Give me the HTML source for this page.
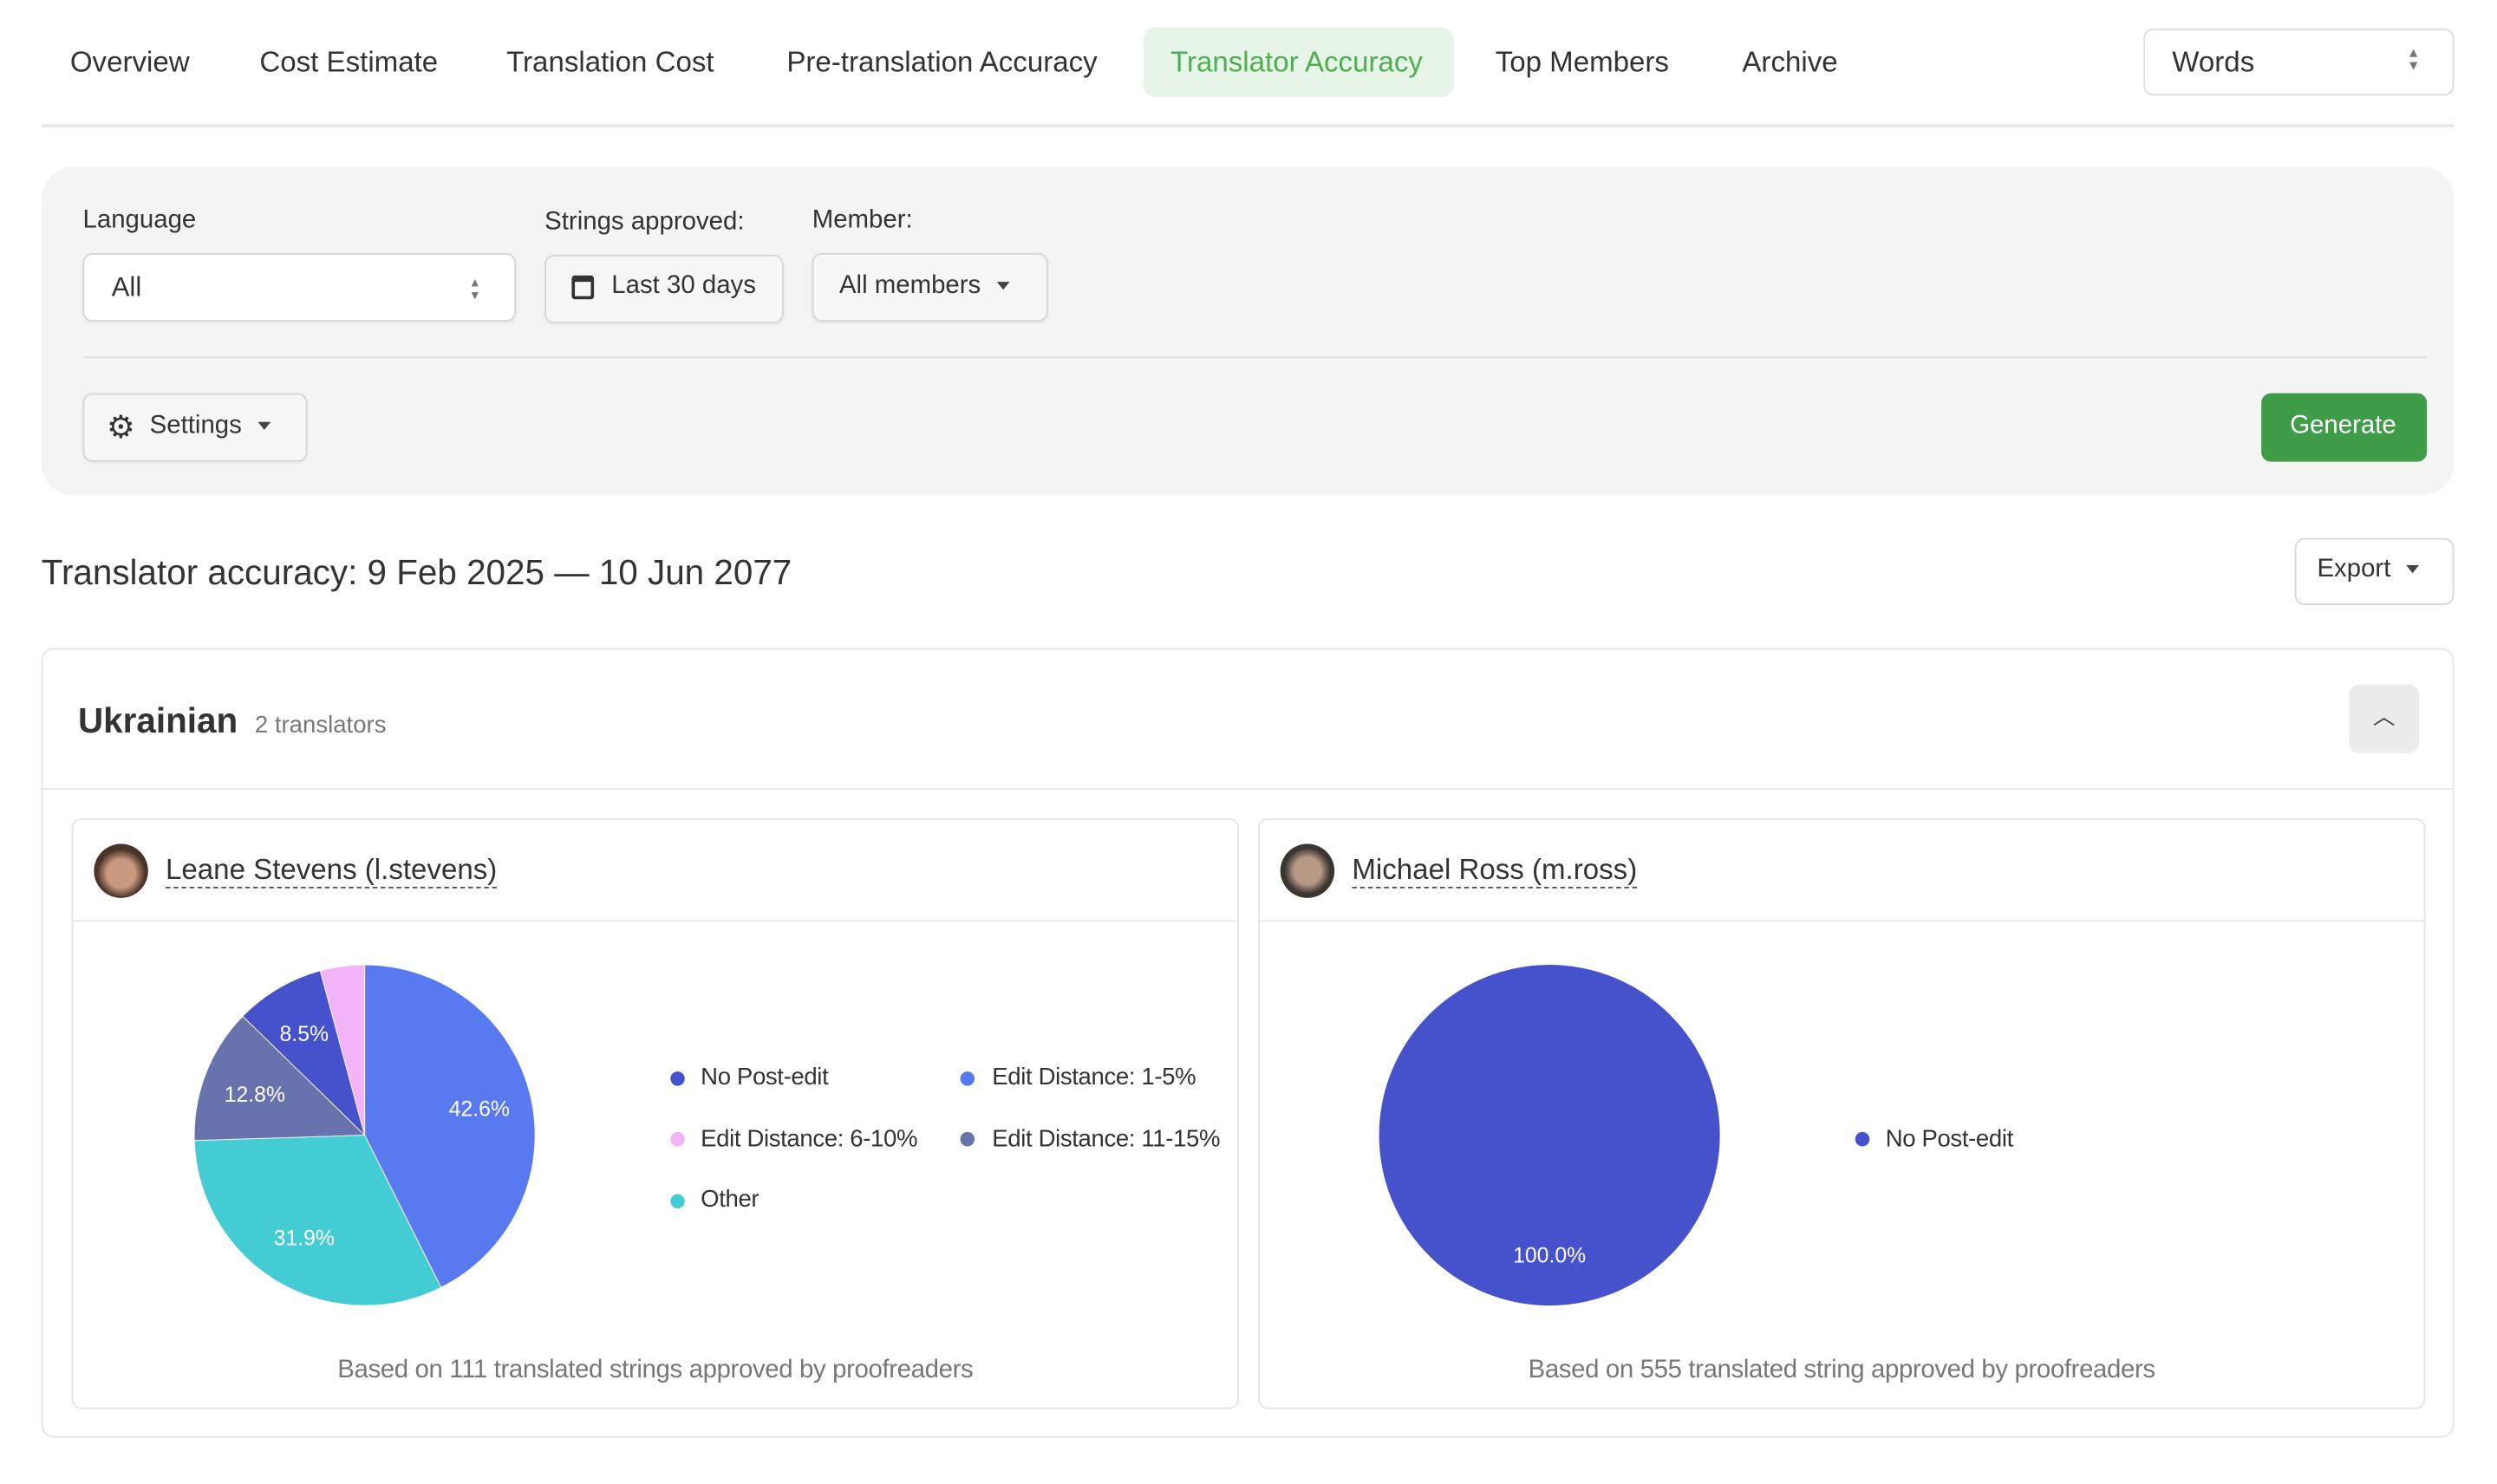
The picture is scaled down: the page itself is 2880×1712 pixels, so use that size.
<!DOCTYPE html>
<html><head><meta charset="utf-8">
<style>
html,body{margin:0;padding:0;background:#fff;}
body{width:2880px;height:1712px;overflow:hidden;font-family:"Liberation Sans",sans-serif;color:#333;}
#w{position:absolute;left:0;top:0;width:1568px;height:932px;transform:scale(1.83673);transform-origin:0 0;}
.a{position:absolute;}
.t{position:absolute;white-space:nowrap;}
.box{position:absolute;box-sizing:border-box;border:1px solid #d6d6d6;border-radius:6px;background:#f7f7f7;box-shadow:0 1px 2px rgba(0,0,0,.06);}
.caret{display:inline-block;width:0;height:0;border-left:4px solid transparent;border-right:4px solid transparent;border-top:5px solid #444;vertical-align:middle;margin-left:10px;}
.dot{position:absolute;width:9px;height:9px;border-radius:50%;}
.lg{font-size:15px;letter-spacing:-0.2px;}
</style></head><body><div id="w">
<!-- nav -->
<div class="t" style="left:44px;top:29px;font-size:18px;">Overview</div>
<div class="t" style="left:163px;top:29px;font-size:18px;">Cost Estimate</div>
<div class="t" style="left:318px;top:29px;font-size:18px;">Translation Cost</div>
<div class="t" style="left:494px;top:29px;font-size:18px;">Pre-translation Accuracy</div>
<div class="a" style="left:718px;top:17px;width:195px;height:44px;background:#e7f5e9;border-radius:8px;"></div>
<div class="t" style="left:735px;top:29px;font-size:18px;color:#4caf50;">Translator Accuracy</div>
<div class="t" style="left:939px;top:29px;font-size:18px;">Top Members</div>
<div class="t" style="left:1094px;top:29px;font-size:18px;">Archive</div>
<div class="a" style="left:1346px;top:18px;width:195px;height:42px;box-sizing:border-box;border:1px solid #ddd;border-radius:6px;"></div>
<div class="t" style="left:1364px;top:29px;font-size:18px;">Words</div>
<div class="t" style="left:1513px;top:30px;font-size:10px;color:#777;line-height:8px;">▴<br>▾</div>
<div class="a" style="left:26px;top:78px;width:1515px;height:2px;background:#e8e8e8;"></div>
<!-- filters -->
<div class="a" style="left:26px;top:105px;width:1515px;height:206px;background:#f4f4f4;border-radius:20px;"></div>
<div class="t" style="left:52px;top:130px;font-size:16px;">Language</div>
<div class="t" style="left:342px;top:131px;font-size:16px;">Strings approved:</div>
<div class="t" style="left:510px;top:130px;font-size:16px;">Member:</div>
<div class="box" style="left:52px;top:159px;width:272px;height:43px;background:#fff;"></div>
<div class="t" style="left:70px;top:171px;font-size:17px;">All</div>
<div class="t" style="left:296px;top:173px;font-size:9px;color:#777;line-height:8px;">▴<br>▾</div>
<div class="box" style="left:342px;top:160px;width:150px;height:43px;"></div>
<div class="a" style="left:359px;top:173px;width:14px;height:15px;border:2px solid #333;border-top-width:4px;border-radius:2px;box-sizing:border-box;"></div>
<div class="t" style="left:384px;top:171px;font-size:16px;">Last 30 days</div>
<div class="box" style="left:510px;top:159px;width:148px;height:43px;"></div>
<div class="t" style="left:527px;top:171px;font-size:16px;">All members<span class="caret"></span></div>
<div class="a" style="left:52px;top:224px;width:1472px;height:1px;background:#ddd;"></div>
<div class="box" style="left:52px;top:247px;width:141px;height:43px;"></div>
<div class="t" style="left:67px;top:256px;font-size:20px;color:#333;">⚙</div>
<div class="t" style="left:94px;top:259px;font-size:16px;">Settings<span class="caret"></span></div>
<div class="a" style="left:1420px;top:247px;width:104px;height:43px;background:#3f9c48;border-radius:6px;"></div>
<div class="t" style="left:1438px;top:259px;font-size:16px;color:#fff;">Generate</div>
<!-- title -->
<div class="t" style="left:26px;top:347px;font-size:22px;">Translator accuracy: 9 Feb 2025 — 10 Jun 2077</div>
<div class="a" style="left:1441px;top:338px;width:100px;height:42px;box-sizing:border-box;border:1px solid #d6d6d6;border-radius:6px;"></div>
<div class="t" style="left:1455px;top:349px;font-size:16px;">Export<span class="caret"></span></div>
<!-- card -->
<div class="a" style="left:26px;top:407px;width:1515px;height:496px;box-sizing:border-box;border:1px solid #e5e5e5;border-radius:8px;"></div>
<div class="t" style="left:49px;top:440px;font-size:22px;font-weight:bold;">Ukrainian</div>
<div class="t" style="left:160px;top:447px;font-size:15px;color:#777;">2 translators</div>
<div class="a" style="left:1475px;top:430px;width:44px;height:43px;background:#ececec;border-radius:6px;"></div>
<div class="t" style="left:1490px;top:440px;font-size:14px;color:#444;">︿</div>
<div class="a" style="left:27px;top:495px;width:1513px;height:1px;background:#e5e5e5;"></div>
<!-- subcards -->
<div class="a" style="left:45px;top:514px;width:733px;height:371px;box-sizing:border-box;border:1px solid #e5e5e5;border-radius:6px;"></div>
<div class="a" style="left:46px;top:578px;width:731px;height:1px;background:#e8e8e8;"></div>
<div class="a" style="left:790px;top:514px;width:733px;height:371px;box-sizing:border-box;border:1px solid #e5e5e5;border-radius:6px;"></div>
<div class="a" style="left:791px;top:578px;width:731px;height:1px;background:#e8e8e8;"></div>
<div class="a" style="left:59px;top:530px;width:34px;height:34px;border-radius:50%;background:radial-gradient(circle at 50% 55%,#c99a80 0 35%,#4a3328 60%);"></div>
<div class="t" style="left:104px;top:535px;font-size:18px;border-bottom:1px dashed #555;line-height:22px;">Leane Stevens (l.stevens)</div>
<div class="a" style="left:804px;top:530px;width:34px;height:34px;border-radius:50%;background:radial-gradient(circle at 50% 50%,#b79a86 0 35%,#3a3632 60%);"></div>
<div class="t" style="left:849px;top:535px;font-size:18px;border-bottom:1px dashed #555;line-height:22px;">Michael Ross (m.ross)</div>
<svg class="a" style="left:0;top:0" width="1568" height="932">
<g stroke="#fff" stroke-width="0.5">
<path d="M229,713 L229,606 A107,107 0 0 1 276.97,808.65 Z" fill="#5879f0"/>
<path d="M229,713 L276.97,808.65 A107,107 0 0 1 122.05,716.36 Z" fill="#43ccd4"/>
<path d="M229,713 L122.05,716.36 A107,107 0 0 1 152.41,638.28 Z" fill="#6872ad"/>
<path d="M229,713 L152.41,638.28 A107,107 0 0 1 201.08,609.7 Z" fill="#4652cc"/>
<path d="M229,713 L201.08,609.7 A107,107 0 0 1 229,606 Z" fill="#f2b3f8"/>
</g>
<circle cx="973" cy="713" r="107" fill="#4652cc"/>
<g font-family="Liberation Sans,sans-serif" font-size="13.5" fill="#fff" text-anchor="middle">
<text x="301" y="701">42.6%</text>
<text x="191" y="782">31.9%</text>
<text x="160" y="692">12.8%</text>
<text x="191" y="654">8.5%</text>
<text x="973" y="793">100.0%</text>
</g>
</svg>
<!-- legend -->
<div class="dot" style="left:421px;top:673px;background:#4652cc;"></div>
<div class="t lg" style="left:440px;top:668px;">No Post-edit</div>
<div class="dot" style="left:603px;top:673px;background:#5879f0;"></div>
<div class="t lg" style="left:623px;top:668px;">Edit Distance: 1-5%</div>
<div class="dot" style="left:421px;top:711px;background:#f2b3f8;"></div>
<div class="t lg" style="left:440px;top:707px;">Edit Distance: 6-10%</div>
<div class="dot" style="left:603px;top:711px;background:#6872ad;"></div>
<div class="t lg" style="left:623px;top:707px;">Edit Distance: 11-15%</div>
<div class="dot" style="left:421px;top:750px;background:#43ccd4;"></div>
<div class="t lg" style="left:440px;top:745px;">Other</div>
<div class="dot" style="left:1165px;top:711px;background:#4652cc;"></div>
<div class="t lg" style="left:1184px;top:707px;">No Post-edit</div>
<div class="t" style="left:45px;width:733px;text-align:center;top:852px;font-size:16px;color:#777;letter-spacing:-0.2px;">Based on 111 translated strings approved by proofreaders</div>
<div class="t" style="left:790px;width:733px;text-align:center;top:852px;font-size:16px;color:#777;letter-spacing:-0.2px;">Based on 555 translated string approved by proofreaders</div>
</div></body></html>
